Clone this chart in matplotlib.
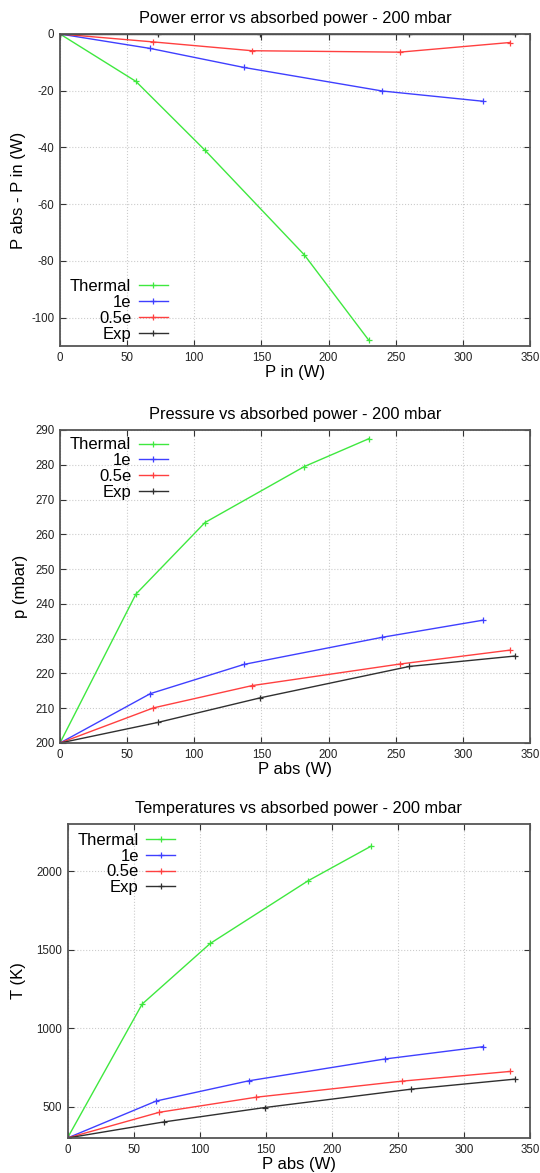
import matplotlib
matplotlib.use("Agg")
import matplotlib.pyplot as plt

plt.rcParams['font.family'] = ['Liberation Sans', 'DejaVu Sans']
plt.rcParams['axes.unicode_minus'] = False

labels = ['Thermal', '1e', '0.5e', 'Exp']
colors = ['#3fe83f', '#3f3fff', '#ff4040', '#303030']

# x values (W)
x_thermal = [0, 56.5, 108, 182, 230]
x_1e = [0, 67.3, 137, 240, 314.8]
x_05e = [0, 69.6, 143, 253, 335]
x_exp = [0, 72.7, 149.3, 260, 338.7]

# power error (W)
err_thermal = [0, -16.7, -41, -77.9, -108]
err_1e = [0, -5.1, -11.8, -20.1, -23.7]
err_05e = [0, -2.8, -5.9, -6.4, -3.0]
err_exp = [0, 0, 0, 0, 0]

# pressure (mbar)
p_thermal = [200, 242.8, 263.4, 279.5, 287.5]
p_1e = [200, 214.2, 222.6, 230.4, 235.3]
p_05e = [200, 210.1, 216.5, 222.7, 226.7]
p_exp = [200, 205.9, 213.0, 222.0, 225.0]

# temperature (K)
t_thermal = [300, 1153, 1539, 1938, 2160]
t_1e = [300, 536, 664, 803, 882]
t_05e = [300, 464, 560, 662, 724]
t_exp = [300, 402, 494, 611, 675]

xs = [x_thermal, x_1e, x_05e, x_exp]

W, H = 540, 1173
fig = plt.figure(figsize=(W / 100, H / 100), dpi=100)


def make_ax(left, right, top, bottom):
    ax = fig.add_axes([left / W, 1 - bottom / H, (right - left) / W, (bottom - top) / H])
    ax._px = (left, right)
    return ax


def style(ax, title, xlabel, ylabel, ylim, yticks, legend_loc, anchor, ylab_x):
    ax.set_xlim(0, 350)
    ax.set_ylim(*ylim)
    ax.set_xticks(range(0, 351, 50))
    ax.set_yticks(yticks)
    ax.tick_params(direction='in', top=True, right=True, labelsize=8.3,
                   labelcolor='#222222', length=4, width=0.8, color='#333333', pad=4)
    ax.grid(True, linestyle=':', color='#cccccc', linewidth=0.8)
    for s in ax.spines.values():
        s.set_color('#555555')
        s.set_linewidth(1.3)
    ax.set_title(title, fontsize=11.8, pad=8)
    ax.set_xlabel(xlabel, fontsize=12, labelpad=1)
    ax.set_ylabel(ylabel, fontsize=12)
    left, right = ax._px
    ax.yaxis.set_label_coords((ylab_x - left) / (right - left), 0.5)
    leg = ax.legend(loc=legend_loc, bbox_to_anchor=anchor, frameon=False, fontsize=12,
                    markerfirst=False, handlelength=1.75, handletextpad=0.45,
                    labelspacing=0.05, borderaxespad=0.2)
    for t in leg.get_texts():
        t.set_ha('right')
    leg._legend_box.align = 'right'


def draw(ax, ys):
    for x, y, lab, c in zip(xs, ys, labels, colors):
        ax.plot(x, y, color=c, lw=1.0, marker='+', ms=4.5, mew=0.9, label=lab)


ax1 = make_ax(60, 530, 34, 346)
draw(ax1, [err_thermal, err_1e, err_05e, err_exp])
style(ax1, 'Power error vs absorbed power - 200 mbar', 'P in (W)', 'P abs - P in (W)',
      (-110, 0), range(-100, 1, 20), 'lower left', (0, -0.018), 26)

ax2 = make_ax(60, 530, 430, 743)
draw(ax2, [p_thermal, p_1e, p_05e, p_exp])
style(ax2, 'Pressure vs absorbed power - 200 mbar', 'P abs (W)', 'p (mbar)',
      (200, 290), range(200, 291, 10), 'upper left', (0, 1.008), 28)

ax3 = make_ax(67.5, 530, 824, 1138)
draw(ax3, [t_thermal, t_1e, t_05e, t_exp])
style(ax3, 'Temperatures vs absorbed power - 200 mbar', 'P abs (W)', 'T (K)',
      (300, 2300), [500, 1000, 1500, 2000], 'upper left', (0, 1.004), 26)

fig.savefig('out.png', dpi=100)
